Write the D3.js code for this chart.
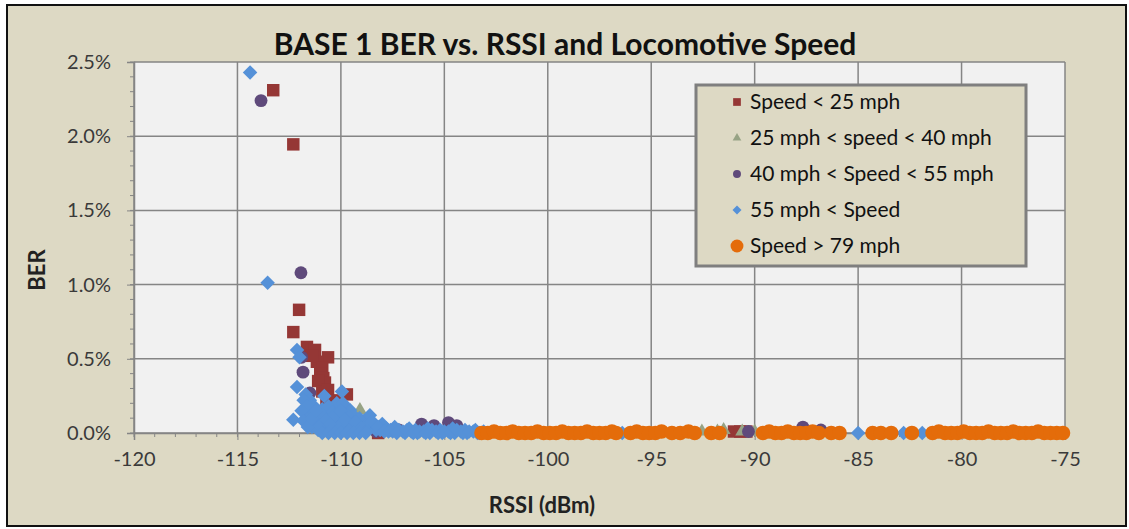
<!DOCTYPE html>
<html>
<head>
<meta charset="utf-8">
<script src="https://cdn.jsdelivr.net/npm/d3@7"></script>
<style>
  body { margin: 0; background: #fff; }
  svg { display: block; font-family: Lato, "Open Sans", sans-serif; }
</style>
</head>
<body>
<svg id="chart" width="1129" height="529"></svg>
<script>
// series data: [RSSI (dBm), BER as fraction]
var speedUnder25 = [
  [-113.27, 0.0231], [-112.30, 0.01945], [-112.02, 0.0083], [-112.30, 0.0068],
  [-111.64, 0.0058], [-111.25, 0.0056], [-110.62, 0.0051], [-111.16, 0.0048],
  [-111.40, 0.0052], [-110.90, 0.0044], [-111.00, 0.0040], [-110.85, 0.0037],
  [-110.77, 0.0034], [-111.10, 0.0035], [-110.90, 0.0028], [-110.62, 0.0029],
  [-110.70, 0.0022], [-109.71, 0.0026], [-110.55, 0.0019], [-110.43, 0.00155],
  [-110.04, 0.00135], [-110.30, 0.0022], [-110.60, 0.0008], [-109.90, 0.0005],
  [-108.20, 0.0000], [-91.0, 0.0001], [-90.7, 0.0001], [-90.4, 0.0001]
];
var speed25to40 = [
  [-109.08, 0.00155], [-92.55, 0.0001], [-91.8, 0.0001], [-91.5, 0.0002],
  [-90.6, 0.0001], [-90.0, 0.0001]
];
var speed40to55 = [
  [-113.86, 0.0224], [-111.93, 0.0108], [-111.90, 0.0051], [-111.83, 0.0041],
  [-111.50, 0.0027], [-111.40, 0.0016], [-111.35, 0.0009], [-111.20, 0.0006],
  [-110.90, 0.0003], [-110.30, 0.0002], [-109.60, 0.0004], [-108.90, 0.0002],
  [-108.30, 0.0001], [-107.20, 0.0002], [-106.10, 0.0006], [-105.50, 0.0005],
  [-104.80, 0.0007], [-104.40, 0.0005], [-90.3, 0.0001], [-87.67, 0.0004],
  [-86.8, 0.0002]
];
var speedOver55 = [
  [-114.39, 0.0243], [-113.54, 0.01013], [-112.12, 0.0056], [-112.00, 0.0051],
  [-112.12, 0.0031], [-112.30, 0.0009], [-111.70, 0.0026], [-111.50, 0.0022],
  [-111.30, 0.0018], [-111.60, 0.0014], [-111.20, 0.0012], [-111.40, 0.0004],
  [-111.00, 0.0009], [-110.90, 0.0016], [-110.80, 0.0025], [-110.50, 0.0011],
  [-110.70, 0.0005], [-110.30, 0.0003], [-110.20, 0.0020], [-110.00, 0.0010],
  [-109.95, 0.0028], [-109.80, 0.0017], [-109.60, 0.0007], [-109.56, 0.00155],
  [-109.40, 0.0012], [-109.20, 0.0004], [-108.90, 0.0008], [-108.70, 0.0003],
  [-108.40, 0.0005], [-108.10, 0.0002], [-107.80, 0.0003], [-107.50, 0.0001],
  [-107.20, 0.0002], [-106.90, 0.0000], [-106.60, 0.0001], [-106.30, 0.0000],
  [-106.00, 0.0001], [-105.70, 0.0000], [-105.40, 0.0001], [-105.10, 0.0000],
  [-104.80, 0.0001], [-104.50, 0.0000], [-104.20, 0.0001], [-103.90, 0.0000],
  [-103.60, 0.0001], [-103.30, 0.0000],
  [-111.80, 0.0022], [-111.60, 0.0018], [-111.70, 0.0010], [-111.50, 0.0007],
  [-111.30, 0.0005], [-111.10, 0.0002], [-110.90, 0.0006], [-110.80, 0.0013],
  [-110.60, 0.0018], [-110.40, 0.0014], [-110.20, 0.0008], [-110.10, 0.0004],
  [-109.90, 0.0020], [-109.70, 0.0012], [-109.50, 0.0005], [-109.30, 0.0002],
  [-109.10, 0.0010], [-108.80, 0.0005], [-108.60, 0.0012], [-108.30, 0.0002],
  [-108.00, 0.0006], [-107.70, 0.0001], [-107.40, 0.0004], [-107.00, 0.0001],
  [-106.70, 0.0003], [-106.40, 0.0002], [-105.80, 0.0003], [-105.20, 0.0002],
  [-104.60, 0.0003], [-104.00, 0.0002], [-103.50, 0.0002], [-103.10, 0.0001],
  [-111.90, 0.0015], [-111.80, 0.0008], [-111.60, 0.0004], [-111.40, 0.0010],
  [-111.20, 0.0015], [-111.00, 0.0005], [-110.70, 0.0009], [-110.50, 0.0006],
  [-110.30, 0.0012], [-110.00, 0.0015], [-109.80, 0.0009], [-109.60, 0.0002],
  [-109.30, 0.0007], [-109.00, 0.0003], [-108.80, 0.0001], [-108.50, 0.0008],
  [-108.20, 0.0004], [-107.90, 0.0001], [-107.60, 0.0002], [-107.30, 0.0000],
  [-106.80, 0.0002], [-106.50, 0.0000], [-106.20, 0.0001], [-105.90, 0.0000],
  [-105.60, 0.0002], [-105.30, 0.0000], [-105.00, 0.0001], [-104.70, 0.0000],
  [-104.40, 0.0002], [-104.10, 0.0000], [-103.80, 0.0001], [-103.40, 0.0000],
  [-110.90, 0.0000], [-110.60, 0.0000], [-110.30, 0.0000], [-110.00, 0.0000],
  [-109.70, 0.0000], [-109.40, 0.0000], [-109.10, 0.0000], [-108.80, 0.0000],
  [-96.4, 0.0000], [-85.0, 0.0000], [-82.8, 0.0000], [-81.9, 0.0000]
];
var speedOver79 = [
  [-103.2, 0.0000], [-102.9, 0.0000], [-102.6, 0.0001], [-102.3, 0.0000],
  [-102.0, 0.0000], [-101.7, 0.0001], [-101.4, 0.0000], [-101.1, 0.0000],
  [-100.8, 0.0000], [-100.5, 0.0001], [-100.2, 0.0000], [-99.9, 0.0000],
  [-99.6, 0.0000], [-99.3, 0.0001], [-99.0, 0.0000], [-98.7, 0.0000],
  [-98.4, 0.0000], [-98.1, 0.0001], [-97.8, 0.0000], [-97.5, 0.0000],
  [-97.2, 0.0000], [-96.9, 0.0001], [-96.7, 0.0000],
  [-96.0, 0.0000], [-95.7, 0.0001], [-95.4, 0.0000], [-95.1, 0.0000],
  [-94.8, 0.0000], [-94.5, 0.0001], [-94.0, 0.0000], [-93.6, 0.0000],
  [-93.2, 0.0001], [-92.9, 0.0000], [-92.1, 0.0000], [-91.7, 0.0000],
  [-89.6, 0.0000], [-89.3, 0.0001], [-89.0, 0.0000], [-88.7, 0.0000],
  [-88.4, 0.0001], [-88.1, 0.0000], [-87.8, 0.0000], [-87.5, 0.0000],
  [-87.2, 0.0001], [-86.9, 0.0000], [-86.3, 0.0000], [-85.9, 0.0000],
  [-84.3, 0.0000], [-83.9, 0.0000], [-83.4, 0.0000], [-82.4, 0.0000],
  [-81.4, 0.0000], [-81.1, 0.0001], [-80.8, 0.0000], [-80.5, 0.0000],
  [-80.2, 0.0000], [-79.9, 0.0001], [-79.6, 0.0000], [-79.3, 0.0000],
  [-79.0, 0.0000], [-78.7, 0.0001], [-78.4, 0.0000], [-78.1, 0.0000],
  [-77.8, 0.0000], [-77.5, 0.0001], [-77.2, 0.0000], [-76.9, 0.0000],
  [-76.6, 0.0000], [-76.3, 0.0001], [-76.0, 0.0000], [-75.7, 0.0000],
  [-75.4, 0.0000], [-75.1, 0.0000]
];

var seriesNames = ["Speed < 25 mph", "25 mph < speed < 40 mph", "40 mph < Speed < 55 mph",
                   "55 mph < Speed", "Speed > 79 mph"];
var xTicks = [-120, -115, -110, -105, -100, -95, -90, -85, -80, -75];
var yTicks = [0, 0.005, 0.01, 0.015, 0.02, 0.025];

var series = [
  { name: seriesNames[0], data: speedUnder25, color: "#953735", shape: "square" },
  { name: seriesNames[1], data: speed25to40, color: "#97a385", shape: "triangle" },
  { name: seriesNames[2], data: speed40to55, color: "#5f4a7b", shape: "circle" },
  { name: seriesNames[3], data: speedOver55, color: "#5591d8", shape: "diamond" },
  { name: seriesNames[4], data: speedOver79, color: "#e46c0a", shape: "bigcircle" }
];

var plot = { left: 134, right: 1065, top: 62, bottom: 433 };

var svg = d3.select("#chart");

// chart area frame
svg.append("rect")
  .attr("x", 7).attr("y", 5).attr("width", 1119).attr("height", 521)
  .attr("fill", "#ddd9c4").attr("stroke", "#111").attr("stroke-width", 2);

var x = d3.scaleLinear().domain([-120, -75]).range([plot.left, plot.right]);
var y = d3.scaleLinear().domain([0, 0.025]).range([plot.bottom, plot.top]);

svg.append("rect")
  .attr("x", plot.left).attr("y", plot.top)
  .attr("width", plot.right - plot.left).attr("height", plot.bottom - plot.top)
  .attr("fill", "#f1f1f1");

// gridlines
svg.append("g").selectAll("line")
  .data(xTicks).enter().append("line")
  .attr("x1", function(d) { return x(d); }).attr("x2", function(d) { return x(d); })
  .attr("y1", plot.top).attr("y2", plot.bottom)
  .attr("stroke", "#858585").attr("stroke-width", 1.5);
svg.append("g").selectAll("line")
  .data(yTicks).enter().append("line")
  .attr("x1", plot.left).attr("x2", plot.right)
  .attr("y1", function(d) { return y(d); }).attr("y2", function(d) { return y(d); })
  .attr("stroke", "#858585").attr("stroke-width", 1.5);

// axes
var xAxis = d3.axisBottom(x).tickValues(xTicks).tickSize(7).tickPadding(12)
  .tickFormat(function(d) { return String(d); });
var gx = svg.append("g").attr("transform", "translate(0," + plot.bottom + ")").call(xAxis);
var yAxis = d3.axisLeft(y).tickValues(yTicks).tickSize(7).tickPadding(16)
  .tickFormat(d3.format(".1%"));
var gy = svg.append("g").attr("transform", "translate(" + plot.left + ",0)").call(yAxis);

// minor ticks
var xMinor = d3.range(-120, -74, 1);
svg.append("g").selectAll("line")
  .data(xMinor).enter().append("line")
  .attr("x1", function(d) { return x(d); }).attr("x2", function(d) { return x(d); })
  .attr("y1", plot.bottom).attr("y2", plot.bottom + 4)
  .attr("stroke", "#858585");
var yMinor = d3.range(0, 0.0251, 0.001);
svg.append("g").selectAll("line")
  .data(yMinor).enter().append("line")
  .attr("x1", plot.left - 4).attr("x2", plot.left)
  .attr("y1", function(d) { return y(d); }).attr("y2", function(d) { return y(d); })
  .attr("stroke", "#858585");

[gx, gy].forEach(function(g) {
  g.select(".domain").attr("stroke", "#858585").attr("stroke-width", 1.5);
  g.selectAll(".tick line").attr("stroke", "#858585");
  g.selectAll(".tick text").attr("fill", "#3a3a3a")
    .style("font-size", "20px").style("font-family", "Lato, sans-serif");
});

// markers
function markerPath(shape, big) {
  var k = big ? 1 : 0.62;
  if (shape == "square") return d3.symbol(d3.symbolSquare, 155 * k * k)();
  if (shape == "triangle") return d3.symbol(d3.symbolTriangle, 85 * k * k)();
  if (shape == "circle") return d3.symbol(d3.symbolCircle, 130 * k * k)();
  if (shape == "diamond") return d3.symbol(d3.symbolSquare, 105 * k * k)();
  return d3.symbol(d3.symbolCircle, big ? 170 : 130)();
}

svg.append("clipPath").attr("id", "plotclip").append("rect")
  .attr("x", plot.left - 8).attr("y", plot.top - 8)
  .attr("width", plot.right - plot.left + 16).attr("height", plot.bottom - plot.top + 16);

series.forEach(function(s) {
  svg.append("g").attr("clip-path", "url(#plotclip)")
    .selectAll("path")
    .data(s.data).enter().append("path")
    .attr("d", markerPath(s.shape, true))
    .attr("fill", s.color)
    .attr("transform", function(d) {
      return "translate(" + x(d[0]) + "," + y(d[1]) + ")" + (s.shape == "diamond" ? " rotate(45)" : "");
    });
});

// title
svg.append("text")
  .attr("x", 565).attr("y", 55)
  .attr("text-anchor", "middle")
  .style("font-size", "30px").style("font-weight", "bold")
  .attr("fill", "#111")
  .text("BASE 1 BER vs. RSSI and Locomotive Speed");

// axis titles
svg.append("text")
  .attr("x", 542).attr("y", 513)
  .attr("text-anchor", "middle")
  .style("font-size", "22px").style("font-weight", "bold")
  .attr("fill", "#222")
  .text("RSSI (dBm)");
svg.append("text")
  .attr("transform", "translate(45,270) rotate(-90)")
  .attr("text-anchor", "middle")
  .style("font-size", "22px").style("font-weight", "bold")
  .attr("fill", "#222")
  .text("BER");

// legend
var legend = svg.append("g");
legend.append("rect")
  .attr("x", 696).attr("y", 85).attr("width", 330).attr("height", 181)
  .attr("fill", "#ddd9c4").attr("stroke", "#7f7f7f").attr("stroke-width", 3);
var rowY = d3.scalePoint().domain(seriesNames).range([102, 246]);
var item = legend.selectAll("g.item")
  .data(series).enter().append("g")
  .attr("transform", function(d) { return "translate(737," + rowY(d.name) + ")"; });
item.append("path")
  .attr("d", function(d) { return markerPath(d.shape, false); })
  .attr("fill", function(d) { return d.color; })
  .attr("transform", function(d) { return d.shape == "diamond" ? "rotate(45)" : null; });
item.append("text")
  .attr("x", 13).attr("dy", "0.35em")
  .style("font-size", "21px")
  .attr("fill", "#111")
  .text(function(d) { return d.name; });
</script>
</body>
</html>
